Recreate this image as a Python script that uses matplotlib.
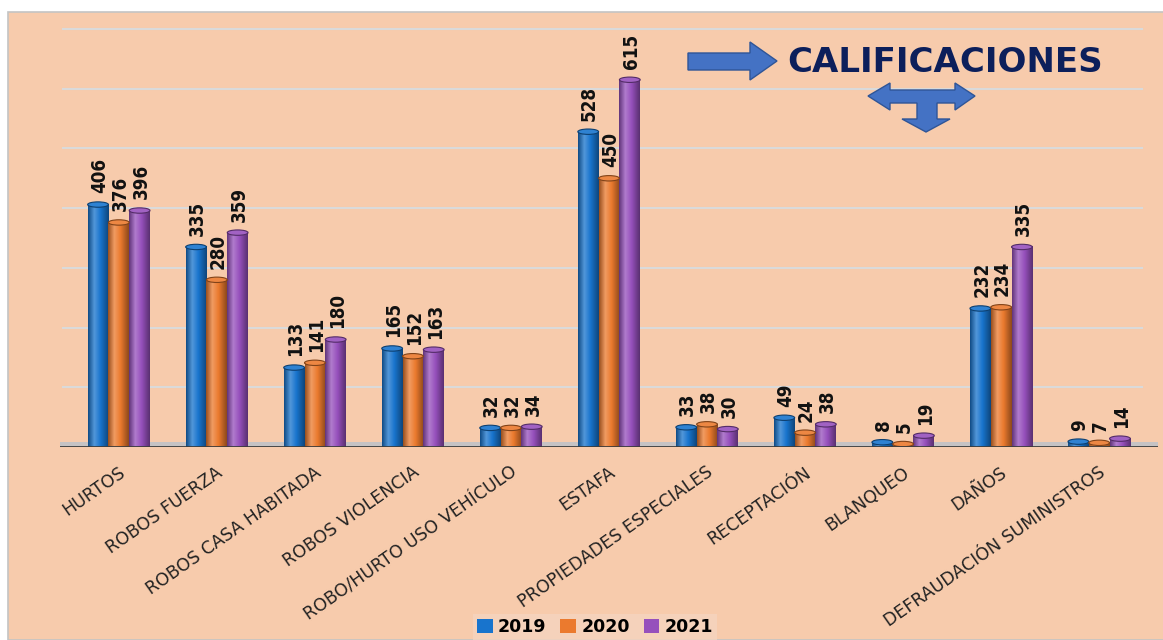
import numpy as np
import matplotlib
matplotlib.use('Agg')
import matplotlib.pyplot as plt
from matplotlib.colors import LinearSegmentedColormap, to_rgb
from matplotlib.patches import Rectangle, Ellipse, Polygon

# data
categorias = ['HURTOS', 'ROBOS FUERZA', 'ROBOS CASA HABITADA', 'ROBOS VIOLENCIA',
              'ROBO/HURTO USO VEHÍCULO', 'ESTAFA', 'PROPIEDADES ESPECIALES',
              'RECEPTACIÓN', 'BLANQUEO', 'DAÑOS', 'DEFRAUDACIÓN SUMINISTROS']
v2019 = [406, 335, 133, 165, 32, 528, 33, 49, 8, 232, 9]
v2020 = [376, 280, 141, 152, 32, 450, 38, 24, 5, 234, 7]
v2021 = [396, 359, 180, 163, 34, 615, 30, 38, 19, 335, 14]
anios = ['2019', '2020', '2021']
colores = ['#1874cd', '#eb7a2e', '#9650bc']

W, H = 1163, 640
PEACH = '#f7cbac'


def mezcla(c, f):
    c = np.array(to_rgb(c))
    if f >= 0:
        return tuple(c + (1 - c) * f)
    return tuple(c * (1 + f))


fig = plt.figure(figsize=(W / 100, H / 100), dpi=100)
fig.patch.set_facecolor('white')
fig.patches.append(Rectangle((8 / W, 0), 1, 1 - 12 / H, transform=fig.transFigure,
                             facecolor=PEACH, edgecolor='#c4c4c4', lw=1.2, zorder=-5))

ax = fig.add_axes([60 / W, 1 - 447 / H, 1098 / W, 418 / H])
ax.set_facecolor('none')

x = np.arange(len(categorias))
ancho = 0.212
series = [v2019, v2020, v2021]

for y in range(100, 701, 100):
    ax.axhline(y, color='#dadada', lw=1.5, zorder=0, xmin=0.003, xmax=0.985,
               clip_on=False)

# floor
ax.fill_between([-0.6, 10.6], 0, 9, color='#c6c3c4', zorder=1, lw=0)
ax.axhline(0, color='#3c3c3c', lw=2, zorder=6)

grad = np.linspace(0, 1, 64).reshape(1, -1)
handles = []
for i, (vals, col) in enumerate(zip(series, colores)):
    cm = LinearSegmentedColormap.from_list(
        'c%d' % i, [(0, mezcla(col, -0.35)), (0.3, mezcla(col, 0.25)),
                    (0.6, col), (1, mezcla(col, -0.4))])
    bars = ax.bar(x + (i - 1) * ancho, vals, ancho, color=col, zorder=2,
                  label=anios[i], lw=0)
    handles.append(bars)
    for b, v in zip(bars, vals):
        x0, w, h = b.get_x(), b.get_width(), b.get_height()
        ax.imshow(grad, extent=[x0, x0 + w, 0, h], aspect='auto', cmap=cm, zorder=3)
        ax.add_patch(Ellipse((x0 + w / 2, h), w, 9, facecolor=mezcla(col, 0.1),
                             edgecolor=mezcla(col, -0.45), lw=0.8, zorder=4))
        ax.annotate(str(v), (x0 + w / 2, h), xytext=(1, 8), textcoords='offset points',
                    rotation=90, ha='center', va='bottom', fontsize=13.5,
                    fontweight='bold', fontstretch='condensed', family='DejaVu Sans',
                    color='#111111', zorder=7)

ax.set_xlim(-0.6, 10.6)
ax.set_ylim(0, 700)
for s in ax.spines.values():
    s.set_visible(False)
ax.set_xticks([])
ax.set_yticks([])

for xi, cat in zip(x, categorias):
    ax.annotate(cat, (xi, 0), xytext=(3, -17), textcoords='offset points',
                rotation=35, rotation_mode='anchor', ha='right', va='center',
                fontsize=12.5, color='#222222')

# title with arrows
fig.text(787 / W, 1 - 62 / H, 'CALIFICACIONES', fontsize=24.5, fontweight='bold',
         color='#0c1f5b', va='center', ha='left')


def flecha(pts):
    fig.patches.append(Polygon([(px / W, 1 - py / H) for px, py in pts], closed=True,
                               transform=fig.transFigure, facecolor='#4472c4',
                               edgecolor='#2f5597', lw=1))


flecha([(688, 53), (750, 53), (750, 42), (777, 61), (750, 80), (750, 70), (688, 70)])
flecha([(868, 96), (890, 83), (890, 90), (955, 90), (955, 83), (975, 96), (955, 110),
        (955, 103), (937, 103), (937, 119), (950, 119), (926, 132), (902, 119),
        (917, 119), (917, 103), (890, 103), (890, 110)])

leg = fig.legend(handles=handles, loc='center', bbox_to_anchor=(595 / W, 1 - 627 / H),
                 ncol=3, frameon=True, fancybox=False, facecolor='#f5d5c0',
                 edgecolor='none', handlelength=0.9, handleheight=0.9,
                 columnspacing=0.8, handletextpad=0.3, borderpad=0.25,
                 prop={'weight': 'bold', 'size': 12.5})

fig.savefig('out.png', dpi=100)
